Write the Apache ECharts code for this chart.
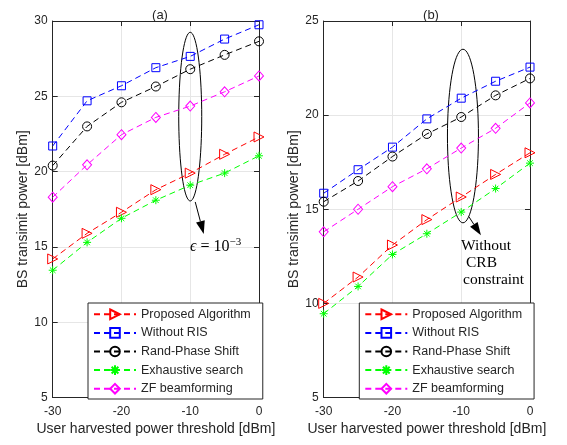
<!DOCTYPE html>
<html>
<head>
<meta charset="utf-8">
<script src="https://cdn.jsdelivr.net/npm/echarts@6/dist/echarts.min.js"></script>
<style>
html, body { margin: 0; padding: 0; background: #fff; }
#main { width: 567px; height: 445px; }
</style>
</head>
<body>
<div id="main"></div>
<script>
// harvested power threshold [dBm]
const thresholds = [-30, -25, -20, -15, -10, -5, 0];
const seriesNames = ['Proposed Algorithm', 'Without RIS', 'Rand-Phase Shift', 'Exhaustive search', 'ZF beamforming'];

// (a) epsilon = 1e-3
const proposedA   = [14.2, 15.9, 17.3, 18.8, 19.9, 21.15, 22.3];
const noRisA      = [21.7, 24.7, 25.7, 26.9, 27.65, 28.8, 29.75];
const randPhaseA  = [20.4, 23.0, 24.6, 25.65, 26.8, 27.75, 28.65];
const exhaustiveA = [13.45, 15.3, 16.9, 18.1, 19.1, 19.9, 21.05];
const zfA         = [18.3, 20.45, 22.45, 23.6, 24.35, 25.3, 26.35];

// (b) without CRB constraint
const proposedB   = [10.0, 11.4, 13.1, 14.45, 15.65, 16.85, 18.0];
const noRisB      = [15.85, 17.1, 18.3, 19.8, 20.9, 21.8, 22.55];
const randPhaseB  = [15.4, 16.5, 17.8, 19.0, 19.9, 21.05, 21.95];
const exhaustiveB = [9.45, 10.9, 12.6, 13.7, 14.85, 16.1, 17.45];
const zfB         = [13.8, 15.0, 16.2, 17.15, 18.25, 19.3, 20.65];

const axisColor = '#262626';
const gridColor = '#e6e6e6';
const colors = ['#ff0000', '#0000ff', '#000000', '#00ff00', '#ff00ff'];
const symbols = [
    'path://M0,0L12,6L0,12Z',
    'rect',
    'circle',
    'path://M5,0L5,10M0,5L10,5M1.5,1.5L8.5,8.5M1.5,8.5L8.5,1.5',
    'diamond'
];
const symbolSizes = [10, 8, 9, 8, [9, 10]];

var chart = echarts.init(document.getElementById('main'));

function xAxes(grid) {
    return [{
        gridIndex: grid, type: 'value', min: -30, max: 0, interval: 10, position: 'bottom',
        name: 'User harvested power threshold [dBm]', nameLocation: 'middle', nameGap: 25,
        nameTextStyle: { fontSize: 14, color: axisColor, fontFamily: 'Liberation Sans' },
        axisLine: { show: true, onZero: false, lineStyle: { color: axisColor } },
        axisTick: { inside: true, length: 5, lineStyle: { color: axisColor } },
        axisLabel: { margin: 8, fontSize: 12, color: axisColor, fontFamily: 'Liberation Sans' },
        splitLine: { show: true, lineStyle: { color: gridColor } }
    }, {
        gridIndex: grid, type: 'value', min: -30, max: 0, interval: 10, position: 'top',
        axisLine: { show: true, onZero: false, lineStyle: { color: axisColor } },
        axisTick: { inside: true, length: 5, lineStyle: { color: axisColor } },
        axisLabel: { show: false }, splitLine: { show: false }
    }];
}

function yAxes(grid, max) {
    return [{
        gridIndex: grid, type: 'value', min: 5, max: max, interval: 5, position: 'left',
        name: 'BS transimit power [dBm]', nameLocation: 'middle', nameGap: 22,
        nameTextStyle: { fontSize: 14, color: axisColor, fontFamily: 'Liberation Sans' },
        axisLine: { show: true, onZero: false, lineStyle: { color: axisColor } },
        axisTick: { inside: true, length: 5, lineStyle: { color: axisColor } },
        axisLabel: { margin: 5, fontSize: 12, color: axisColor, fontFamily: 'Liberation Sans' },
        splitLine: { show: true, lineStyle: { color: gridColor } }
    }, {
        gridIndex: grid, type: 'value', min: 5, max: max, interval: 5, position: 'right',
        axisLine: { show: true, onZero: false, lineStyle: { color: axisColor } },
        axisTick: { inside: true, length: 5, lineStyle: { color: axisColor } },
        axisLabel: { show: false }, splitLine: { show: false }
    }];
}

function makeSeries(lists, xIdx, yIdx) {
    return lists.map(function (vals, i) {
        return {
            name: seriesNames[i],
            type: 'line',
            xAxisIndex: xIdx, yAxisIndex: yIdx,
            data: thresholds.map(function (t, k) { return [t, vals[k]]; }),
            symbol: symbols[i],
            symbolSize: symbolSizes[i],
            showAllSymbol: true,
            lineStyle: { color: colors[i], width: 1, type: [6, 4] },
            itemStyle: { color: 'none', borderColor: colors[i], borderWidth: 1 },
            emphasis: { disabled: true },
            animation: false
        };
    });
}

function legendAt(left) {
    return {
        left: left, top: 303, orient: 'vertical',
        data: seriesNames,
        itemWidth: 42, itemHeight: 12, itemGap: 4,
        padding: [4, 12, 3, 5],
        backgroundColor: '#fff', borderColor: axisColor, borderWidth: 1, borderRadius: 0,
        textStyle: { fontSize: 12.5, color: axisColor, fontFamily: 'Liberation Sans' },
        selectedMode: false
    };
}

var option = {
    backgroundColor: '#fff',
    animation: false,
    title: [
        { text: '(a)', left: 155, top: 4, textAlign: 'center', textStyle: { fontSize: 13, fontWeight: 'normal', color: axisColor, fontFamily: 'Liberation Sans' } },
        { text: '(b)', left: 426, top: 4, textAlign: 'center', textStyle: { fontSize: 13, fontWeight: 'normal', color: axisColor, fontFamily: 'Liberation Sans' } }
    ],
    grid: [
        { left: 52.7, right: 308, top: 21, bottom: 47.5 },
        { left: 323.7, right: 37, top: 21, bottom: 47.5 }
    ],
    xAxis: xAxes(0).concat(xAxes(1)),
    yAxis: yAxes(0, 30).concat(yAxes(1, 25)),
    legend: [legendAt(88), legendAt(359.3)],
    series: makeSeries([proposedA, noRisA, randPhaseA, exhaustiveA, zfA], 0, 0)
        .concat(makeSeries([proposedB, noRisB, randPhaseB, exhaustiveB, zfB], 2, 2))
};

chart.setOption(option);

// annotations: ellipse around x = -10 and an arrow to the text
function ellipsePoints(cx, cy, rx, ry) {
    var pts = [];
    for (var k = 0; k < 72; k++) {
        var a = k / 72 * Math.PI * 2;
        pts.push([cx + rx * Math.cos(a), cy + ry * Math.sin(a)]);
    }
    return pts;
}

function arrow(from, to) {
    var dx = to[0] - from[0], dy = to[1] - from[1];
    var len = Math.sqrt(dx * dx + dy * dy);
    var ux = dx / len, uy = dy / len;
    var hl = 13, hw = 4.5;
    var bx = to[0] - ux * hl, by = to[1] - uy * hl;
    return [
        { type: 'line', shape: { x1: from[0], y1: from[1], x2: bx, y2: by }, style: { stroke: '#000', lineWidth: 1 } },
        { type: 'polygon', shape: { points: [to, [bx - uy * hw, by + ux * hw], [bx + uy * hw, by - ux * hw]] }, style: { fill: '#000' } }
    ];
}

var topA = chart.convertToPixel({ gridIndex: 0 }, [-10, 29.25]);
var botA = chart.convertToPixel({ gridIndex: 0 }, [-10, 18.05]);
var topB = chart.convertToPixel({ gridIndex: 1 }, [-9.75, 23.5]);
var botB = chart.convertToPixel({ gridIndex: 1 }, [-9.75, 14.28]);

var serif = 'Liberation Serif';
var elements = [
    { type: 'polygon', shape: { points: ellipsePoints(topA[0], (topA[1] + botA[1]) / 2, 11.5, (botA[1] - topA[1]) / 2) }, style: { fill: 'none', stroke: '#000', lineWidth: 1 } },
    { type: 'polygon', shape: { points: ellipsePoints(topB[0], (topB[1] + botB[1]) / 2, 15.5, (botB[1] - topB[1]) / 2) }, style: { fill: 'none', stroke: '#000', lineWidth: 1 } }
]
    .concat(arrow([botA[0] + 5, botA[1] + 1], [botA[0] + 13.5, botA[1] + 33]))
    .concat(arrow([botB[0] + 6, botB[1] - 6], [botB[0] + 18, botB[1] + 12.5]))
    .concat([
        { type: 'text', left: 190, top: 237, style: { text: '{i|ϵ} = 10{s|−3}', fill: '#000', font: '16px ' + serif,
            rich: { i: { fontStyle: 'italic', fontSize: 16, fontFamily: serif }, s: { fontSize: 11, fontFamily: serif, verticalAlign: 'top', padding: [0, 0, 8, 0] } } } },
        { type: 'text', left: 461, top: 238, style: { text: 'Without', fill: '#000', font: '15.5px ' + serif } },
        { type: 'text', left: 466, top: 255, style: { text: 'CRB', fill: '#000', font: '15.5px ' + serif } },
        { type: 'text', left: 463, top: 272, style: { text: 'constraint', fill: '#000', font: '15.5px ' + serif } }
    ]);

chart.setOption({ graphic: { elements: elements } });
</script>
</body>
</html>
